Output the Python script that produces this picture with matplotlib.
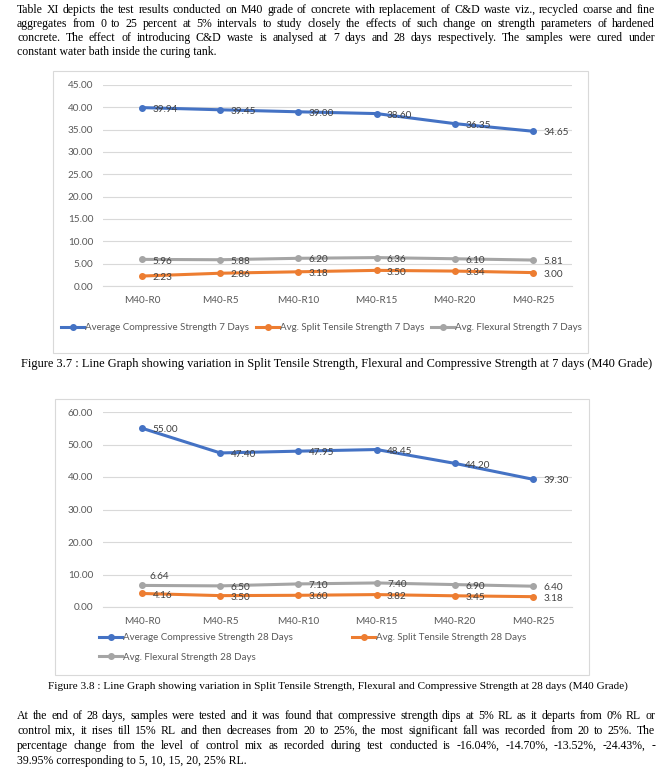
import numpy as np
import matplotlib
matplotlib.use("Agg")
import matplotlib.pyplot as plt
from matplotlib.patches import Rectangle
from matplotlib.lines import Line2D

W, H = 672, 778
DPI = 100

categories = ["M40-R0", "M40-R5", "M40-R10", "M40-R15", "M40-R20", "M40-R25"]

comp_7 = [39.94, 39.45, 39.00, 38.60, 36.35, 34.65]
split_7 = [2.23, 2.86, 3.18, 3.50, 3.34, 3.00]
flex_7 = [5.96, 5.88, 6.20, 6.36, 6.10, 5.81]

comp_28 = [55.00, 47.40, 47.95, 48.45, 44.20, 39.30]
split_28 = [4.16, 3.50, 3.60, 3.82, 3.45, 3.18]
flex_28 = [6.64, 6.50, 7.10, 7.40, 6.90, 6.40]

names_7 = ["Average Compressive Strength 7 Days", "Avg. Split Tensile Strength 7 Days",
           "Avg. Flexural Strength 7 Days"]
names_28 = ["Average Compressive Strength 28 Days", "Avg. Split Tensile Strength 28 Days",
            "Avg. Flexural Strength 28 Days"]

top_par = [
    "Table XI depicts the test results conducted on M40 grade of concrete with replacement of C&D waste viz., recycled coarse and fine",
    "aggregates from 0 to 25 percent at 5% intervals to study closely the effects of such change on strength parameters of hardened",
    "concrete. The effect of introducing C&D waste is analysed at 7 days and 28 days respectively. The samples were cured under",
    "constant water bath inside the curing tank.",
]
bottom_par = [
    "At the end of 28 days, samples were tested and it was found that compressive strength dips at 5% RL as it departs from 0% RL or",
    "control mix, it rises till 15% RL and then decreases from 20 to 25%, the most significant fall was recorded from 20 to 25%. The",
    "percentage change from the level of control mix as recorded during test conducted is -16.04%, -14.70%, -13.52%, -24.43%, -",
    "39.95% corresponding to 5, 10, 15, 20, 25% RL.",
]
cap_7 = "Figure 3.7 : Line Graph showing variation in Split Tensile Strength, Flexural and Compressive Strength at 7 days (M40 Grade)"
cap_28 = "Figure 3.8 : Line Graph showing variation in Split Tensile Strength, Flexural and Compressive Strength at 28 days (M40 Grade)"

COLORS = ["#4472C4", "#ED7D31", "#A5A5A5"]
CHART_FONT = "Lato"
SERIF = "Liberation Serif"

fig = plt.figure(figsize=(W / DPI, H / DPI), dpi=DPI)
fig.patch.set_facecolor("white")


def fx(x):
    return x / W


def fy(y):
    return 1 - y / H


def add_box(x0, y0, x1, y1):
    fig.patches.append(Rectangle((fx(x0), fy(y1)), (x1 - x0) / W, (y1 - y0) / H,
                                 transform=fig.transFigure, fill=False,
                                 edgecolor="#d9d9d9", lw=0.8))


def justified(lines, x0, x1, y0, dy, size):
    renderer = fig.canvas.get_renderer()
    for i, line in enumerate(lines):
        y = fy(y0 + i * dy)
        if i == len(lines) - 1:
            fig.text(fx(x0), y, line, family=SERIF, fontsize=size, va="center", ha="left")
            continue
        words = line.split(" ")
        texts = [fig.text(0, y, w, family=SERIF, fontsize=size, va="center", ha="left")
                 for w in words]
        widths = [t.get_window_extent(renderer).width for t in texts]
        gap = (x1 - x0 - sum(widths)) / (len(words) - 1)
        pos = x0
        for t, w in zip(texts, widths):
            t.set_x(fx(pos))
            pos += w + gap


def draw_chart(ax, series, names, ymax, ystep, offsets):
    x = np.arange(len(categories))
    for vals, name, col in zip(series, names, COLORS):
        ax.plot(x, vals, color=col, lw=2.2, marker="o", ms=4, label=name,
                solid_capstyle="round", zorder=3)
    for k, vals in enumerate(series):
        for i, v in enumerate(vals):
            dx, dy = offsets.get((k, i), (7.5, -1.2))
            ax.annotate(f"{v:.2f}", (x[i], v), xytext=(dx, dy), textcoords="offset points",
                        ha="left", va="center", fontsize=7.2, family=CHART_FONT,
                        color="#404040", zorder=4)
    ax.set_xlim(-0.5, len(categories) - 0.5)
    ax.set_ylim(0, ymax)
    ax.set_yticks(np.arange(0, ymax + 0.01, ystep))
    ax.set_yticklabels([f"{t:.2f}" for t in np.arange(0, ymax + 0.01, ystep)])
    ax.set_xticks(x)
    ax.set_xticklabels(categories)
    ax.grid(axis="y", color="#d9d9d9", lw=0.8)
    ax.set_axisbelow(True)
    for s in ["top", "right", "left"]:
        ax.spines[s].set_visible(False)
    ax.spines["bottom"].set_color("#d9d9d9")
    ax.spines["bottom"].set_linewidth(0.8)
    ax.tick_params(length=0, labelsize=7.2, labelcolor="#595959", pad=7)
    for lab in ax.get_xticklabels() + ax.get_yticklabels():
        lab.set_family(CHART_FONT)
    ax.patch.set_alpha(0)


def legend_entry(color, label, x, y):
    h = Line2D([], [], color=color, lw=2.2, marker="o", ms=4)
    lg = fig.legend(handles=[h], labels=[label], loc="center left",
                    bbox_to_anchor=(fx(x), fy(y)), frameon=False, borderpad=0,
                    borderaxespad=0, handlelength=2.4, handletextpad=0.1,
                    prop={"family": CHART_FONT, "size": 7})
    for t in lg.get_texts():
        t.set_color("#595959")


# paragraph text
justified(top_par, 17, 655, 10, 14, 8.5)

# chart 1 (7 days)
add_box(53, 71, 588, 353)
ax1 = fig.add_axes([fx(103), fy(286), (572 - 103) / W, (286 - 85) / H])
draw_chart(ax1, [comp_7, split_7, flex_7], names_7, 45, 5, {})
legend_entry(COLORS[0], names_7[0], 61, 328)
legend_entry(COLORS[1], names_7[1], 256, 328)
legend_entry(COLORS[2], names_7[2], 431, 328)
fig.text(fx(337), fy(364), cap_7, family=SERIF, fontsize=8.9, ha="center", va="center")

# chart 2 (28 days)
add_box(55, 399, 589, 675)
ax2 = fig.add_axes([fx(103), fy(607), (572 - 103) / W, (607 - 412) / H])
draw_chart(ax2, [comp_28, split_28, flex_28], names_28, 60, 10, {(2, 0): (5, 6.5)})
legend_entry(COLORS[0], names_28[0], 99, 638)
legend_entry(COLORS[1], names_28[1], 352, 638)
legend_entry(COLORS[2], names_28[2], 99, 657)
fig.text(fx(338), fy(686), cap_28, family=SERIF, fontsize=8.1, ha="center", va="center")

justified(bottom_par, 17, 655, 716, 15, 8.5)

fig.savefig("out.png", dpi=DPI)
